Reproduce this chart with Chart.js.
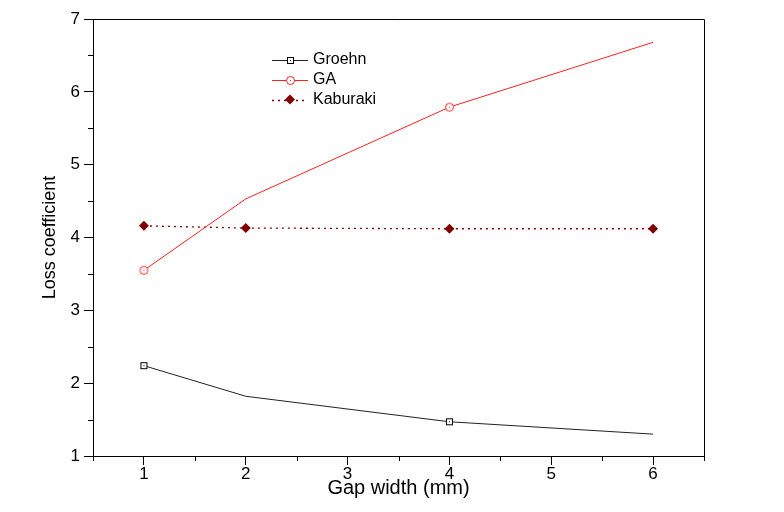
<!DOCTYPE html>
<html>
<head>
<meta charset="utf-8">
<script src="https://cdn.jsdelivr.net/npm/chart.js@4/dist/chart.umd.min.js"></script>
<style>
  html, body { margin: 0; padding: 0; background: #fff; }
  #wrap { width: 784px; height: 512px; }
</style>
</head>
<body>
<div id="wrap"><canvas id="myChart" width="784" height="512"></canvas></div>
<script>
// datos
var gapWidth = [1, 2, 4, 6];
var groehn = [2.24, 1.82, 1.47, 1.30];
var ga = [3.55, 4.53, 5.79, 6.68];
var kaburaki = [4.16, 4.13, 4.12, 4.12];
var seriesNames = ['Groehn', 'GA', 'Kaburaki'];
var xTicks = [1, 2, 3, 4, 5, 6];
var yTicks = [1, 2, 3, 4, 5, 6, 7];

var FONT = "'Liberation Sans', Arial, sans-serif";

function toPoints(ys) {
    return gapWidth.map(function (x, i) { return {x: x, y: ys[i]}; });
}

// marcadores: cuadrado y circulo con punto central
function makeSquare() {
    var c = document.createElement('canvas');
    c.width = 9; c.height = 9;
    var g = c.getContext('2d');
    g.fillStyle = '#fff';
    g.fillRect(1, 1, 7, 7);
    g.strokeStyle = '#000';
    g.lineWidth = 1;
    g.strokeRect(1.5, 1.5, 6, 6);
    g.fillStyle = '#000';
    g.fillRect(4, 4, 1, 1);
    return c;
}
function makeCircle() {
    var c = document.createElement('canvas');
    c.width = 11; c.height = 11;
    var g = c.getContext('2d');
    g.fillStyle = '#fff';
    g.beginPath(); g.arc(5.5, 5.5, 4, 0, Math.PI * 2); g.fill();
    g.strokeStyle = '#ff2020';
    g.lineWidth = 1;
    g.stroke();
    g.fillStyle = '#ff2020';
    g.fillRect(5, 5, 1, 1);
    return c;
}
var squareImg = makeSquare();
var circleImg = makeCircle();

// marco, ticks menores y leyenda
var extras = {
    id: 'extras',
    afterDraw: function (chart) {
        var ctx = chart.ctx;
        var a = chart.chartArea;
        var sx = chart.scales.x, sy = chart.scales.y;
        ctx.save();
        ctx.strokeStyle = '#000';
        ctx.lineWidth = 1;
        ctx.beginPath();
        ctx.moveTo(a.left, a.top + 0.5);
        ctx.lineTo(a.right + 0.5, a.top + 0.5);
        ctx.lineTo(a.right + 0.5, a.bottom);
        ctx.stroke();
        // ticks menores
        ctx.beginPath();
        for (var v = 0.5; v <= 6.5; v += 1) {
            var px = Math.round(sx.getPixelForValue(v)) + 0.5;
            ctx.moveTo(px, a.bottom);
            ctx.lineTo(px, a.bottom + 5);
        }
        for (var w = 1.5; w <= 6.5; w += 1) {
            var py = Math.round(sy.getPixelForValue(w)) + 0.5;
            ctx.moveTo(a.left, py);
            ctx.lineTo(a.left - 5, py);
        }
        ctx.stroke();

        // leyenda
        var lx0 = 272, lx1 = 308, rows = [60, 79.5, 99.5];
        ctx.font = '16px ' + FONT;
        ctx.textBaseline = 'middle';
        ctx.fillStyle = '#000';
        chart.data.datasets.forEach(function (ds, i) {
            var y = rows[i];
            ctx.strokeStyle = ds.borderColor;
            ctx.lineWidth = ds.borderWidth;
            ctx.setLineDash(ds.borderDash || []);
            ctx.beginPath();
            ctx.moveTo(lx0, Math.round(y) + 0.5);
            ctx.lineTo(lx1, Math.round(y) + 0.5);
            ctx.stroke();
            ctx.setLineDash([]);
            var cx = (lx0 + lx1) / 2;
            if (i === 0) ctx.drawImage(squareImg, Math.round(cx) - 4, Math.round(y) - 4);
            else if (i === 1) ctx.drawImage(circleImg, Math.round(cx) - 5, Math.round(y) - 5);
            else {
                ctx.fillStyle = '#800000';
                ctx.beginPath();
                ctx.moveTo(cx, y - 5); ctx.lineTo(cx + 5, y); ctx.lineTo(cx, y + 5); ctx.lineTo(cx - 5, y);
                ctx.closePath(); ctx.fill();
            }
            ctx.fillStyle = '#000';
            ctx.fillText(ds.label, 313, y);
        });
        ctx.restore();
    }
};

var ctx = document.getElementById('myChart').getContext('2d');
var myChart = new Chart(ctx, {
    type: 'line',
    data: {
        datasets: [{
            label: seriesNames[0],
            data: toPoints(groehn),
            borderColor: '#222',
            borderWidth: 1,
            pointStyle: squareImg,
            pointRadius: [4, 0, 4, 0],
            tension: 0
        }, {
            label: seriesNames[1],
            data: toPoints(ga),
            borderColor: '#ff2020',
            borderWidth: 1,
            pointStyle: circleImg,
            pointRadius: [4, 0, 4, 0],
            tension: 0
        }, {
            label: seriesNames[2],
            data: toPoints(kaburaki),
            borderColor: '#800000',
            borderWidth: 1.3,
            borderDash: [2, 4],
            pointStyle: 'rectRot',
            pointRadius: 5,
            pointBackgroundColor: '#800000',
            pointBorderColor: '#800000',
            pointBorderWidth: 0,
            tension: 0
        }]
    },
    plugins: [extras],
    options: {
        responsive: false,
        animation: false,
        layout: { padding: { top: 19, right: 80, left: 0, bottom: 0 } },
        plugins: { legend: { display: false }, tooltip: { enabled: false } },
        scales: {
            x: {
                type: 'linear',
                min: 0.5,
                max: 6.5,
                afterBuildTicks: function (scale) {
                    scale.ticks = xTicks.map(function (v) { return {value: v}; });
                },
                afterFit: function (scale) { scale.height = 56; },
                grid: { drawOnChartArea: false, tickLength: 9, color: '#000' },
                border: { color: '#000', width: 1 },
                ticks: { color: '#000', padding: 1, maxRotation: 0,
                    font: { family: FONT, size: 17, lineHeight: 1 } },
                title: { display: true, text: 'Gap width (mm)', color: '#000',
                    font: { family: FONT, size: 20 }, padding: { top: 0, bottom: 12 } }
            },
            y: {
                type: 'linear',
                min: 1,
                max: 7,
                afterBuildTicks: function (scale) {
                    scale.ticks = yTicks.map(function (v) { return {value: v}; });
                },
                afterFit: function (scale) { scale.width = 93; },
                grid: { drawOnChartArea: false, tickLength: 9, color: '#000' },
                border: { color: '#000', width: 1 },
                ticks: { color: '#000', padding: 4,
                    font: { family: FONT, size: 17 } },
                title: { display: true, text: 'Loss coefficient', color: '#000',
                    font: { family: FONT, size: 18 }, padding: { top: 39, bottom: 0 } }
            }
        }
    }
});
</script>
</body>
</html>
